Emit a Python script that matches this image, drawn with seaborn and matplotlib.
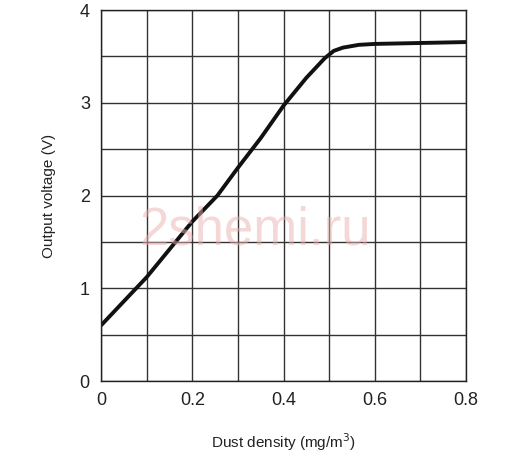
import matplotlib
matplotlib.use("Agg")
import matplotlib.pyplot as plt
import seaborn as sns
import numpy as np

# curve
dust = [0.0, 0.1, 0.2, 0.255, 0.3, 0.35, 0.4, 0.45, 0.49, 0.51, 0.53, 0.565, 0.6, 0.7, 0.8]
volts = [0.6, 1.12, 1.72, 2.0, 2.3, 2.62, 2.97, 3.27, 3.48, 3.56, 3.595, 3.625, 3.635, 3.645, 3.655]
x_ticks = [0, 0.2, 0.4, 0.6, 0.8]
x_labels = ["0", "0.2", "0.4", "0.6", "0.8"]
y_ticks = [0, 1, 2, 3, 4]

sns.set_style("white")
plt.rcParams['font.family'] = ['Liberation Sans', 'DejaVu Sans']

fig = plt.figure(figsize=(5.1, 4.57), dpi=100)
ax = fig.add_axes([0.198, 0.166, 0.716, 0.812])

sns.lineplot(x=dust, y=volts, ax=ax, color='#111111', linewidth=2.8,
             sort=False, solid_joinstyle='round', solid_capstyle='butt')

ax.set_xlim(0, 0.8)
ax.set_ylim(0, 4)
ax.set_xticks(x_ticks)
ax.set_xticklabels(x_labels)
ax.set_yticks(y_ticks)
ax.set_xticks(np.arange(0.1, 0.8, 0.2), minor=True)
ax.set_yticks(np.arange(0.5, 4, 1.0), minor=True)
ax.grid(True, which='both', color='#333333', linewidth=1.0)
ax.set_axisbelow(True)
ax.tick_params(which='both', length=0, labelsize=13, colors='#222222')
ax.tick_params(axis='x', pad=8)
ax.tick_params(axis='y', pad=8)
for s in ax.spines.values():
    s.set_color('#222222')
    s.set_linewidth(1.0)

ax.set_xlabel("Dust density (mg/m$^3$)", fontsize=11, color='#222222', labelpad=16)
ax.set_ylabel("Output voltage (V)", fontsize=11, color='#222222', labelpad=17)

# watermark
fig.text(0.5, 0.495, "2shemi.ru", fontsize=38, color='#eab0b0', alpha=0.5,
         ha='center', va='center')

fig.savefig("out.png", dpi=100)
